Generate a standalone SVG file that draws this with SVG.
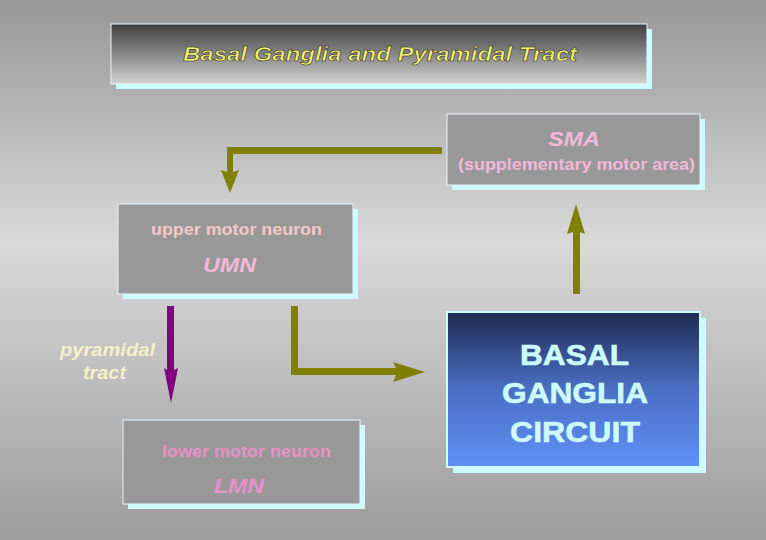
<svg xmlns="http://www.w3.org/2000/svg" width="766" height="540" viewBox="0 0 766 540">
<defs>
<linearGradient id="bg" x1="0" y1="0" x2="0" y2="1"><stop offset="0" stop-color="#979797"/><stop offset="0.45" stop-color="#d9d9d9"/><stop offset="1" stop-color="#9c9c9c"/></linearGradient>
<linearGradient id="tg" x1="0" y1="0" x2="0" y2="1"><stop offset="0" stop-color="#3c3c3c"/><stop offset="1" stop-color="#d2d2d2"/></linearGradient>
<linearGradient id="bgc" x1="0" y1="0" x2="0" y2="1"><stop offset="0" stop-color="#1f2b52"/><stop offset="0.5" stop-color="#4a6fc4"/><stop offset="1" stop-color="#6090f8"/></linearGradient>
<style>
.sh{fill:#cdfcff}
.bx{fill:#989898;stroke:#e6f6ff;stroke-width:1}
text{font-family:"Liberation Sans",Arial,sans-serif;font-weight:bold;lengthAdjust:spacingAndGlyphs}
.it{font-style:italic}
.pk{fill:#f2b8d8}
.ol{fill:#7f7f00}
</style>
</defs>
<rect width="766" height="540" fill="url(#bg)"/>
<g id="title"><rect class="sh" x="116" y="29" width="536" height="60"/><rect x="111" y="24" width="536" height="60" fill="url(#tg)" stroke="#e6f6ff"/><text class="it" x="183" y="61" font-size="20" textLength="394" lengthAdjust="spacingAndGlyphs" font-weight="normal" fill="#f0f070" stroke="#222" stroke-width="0.5">Basal Ganglia and Pyramidal Tract</text></g>
<g id="sma"><rect class="sh" x="452" y="119" width="253" height="71"/><rect class="bx" x="447" y="114" width="253" height="71"/><text class="it pk" x="548" y="146" font-size="20" font-weight="normal" textLength="52" lengthAdjust="spacingAndGlyphs">SMA</text><text class="pk" x="458" y="170" font-size="16" textLength="237" lengthAdjust="spacingAndGlyphs">(supplementary motor area)</text></g>
<g id="umn"><rect class="sh" x="123" y="209" width="235" height="90"/><rect class="bx" x="118" y="204" width="235" height="90"/><text x="151" y="235" font-size="17" textLength="171" lengthAdjust="spacingAndGlyphs" fill="#f4c8c8">upper motor neuron</text><text class="it pk" x="203" y="272" font-size="21" font-weight="normal" textLength="53" lengthAdjust="spacingAndGlyphs">UMN</text></g>
<g id="lmn"><rect class="sh" x="128" y="425" width="237" height="84"/><rect class="bx" x="123" y="420" width="237" height="84"/><text x="162" y="457" font-size="17" textLength="169" lengthAdjust="spacingAndGlyphs" fill="#e890c8">lower motor neuron</text><text class="it" x="214" y="493" font-size="21" font-weight="normal" textLength="50" lengthAdjust="spacingAndGlyphs" fill="#e890c8">LMN</text></g>
<g id="basal"><rect class="sh" x="453" y="318" width="253" height="155"/><rect x="447" y="312" width="253" height="155" fill="url(#bgc)" stroke="#cdfcff" stroke-width="2"/><text x="520" y="365" font-size="30" textLength="109" lengthAdjust="spacingAndGlyphs" font-weight="normal" fill="#ccfcff" stroke="#ccfcff" stroke-width="0.6">BASAL</text><text x="502" y="403" font-size="30" textLength="146" lengthAdjust="spacingAndGlyphs" font-weight="normal" fill="#ccfcff" stroke="#ccfcff" stroke-width="0.6">GANGLIA</text><text x="510" y="442" font-size="30" textLength="130" lengthAdjust="spacingAndGlyphs" font-weight="normal" fill="#ccfcff" stroke="#ccfcff" stroke-width="0.6">CIRCUIT</text></g>
<text class="it" x="60" y="356" font-size="19" textLength="95" lengthAdjust="spacingAndGlyphs" fill="#f4f0c8">pyramidal</text>
<text class="it" x="83" y="379" font-size="19" textLength="43" lengthAdjust="spacingAndGlyphs" fill="#f4f0c8">tract</text>
<g id="connectors">
<path class="ol" d="M442 147 V154 H233 V172 L239 170 L230 193 L221 170 L227 172 V147 Z"/>
<path d="M167 306 H174 V370 L178 368 L171 403 L164 368 L167 370 Z" fill="#800080"/>
<path class="ol" d="M291 306 H298 V368 H396 L393 362 L425 372 L393 382 L396 375 H291 Z"/>
<path class="ol" d="M573 294 H580 V232 L585 234 L576 204 L567 234 L573 232 Z"/>
</g>
</svg>
